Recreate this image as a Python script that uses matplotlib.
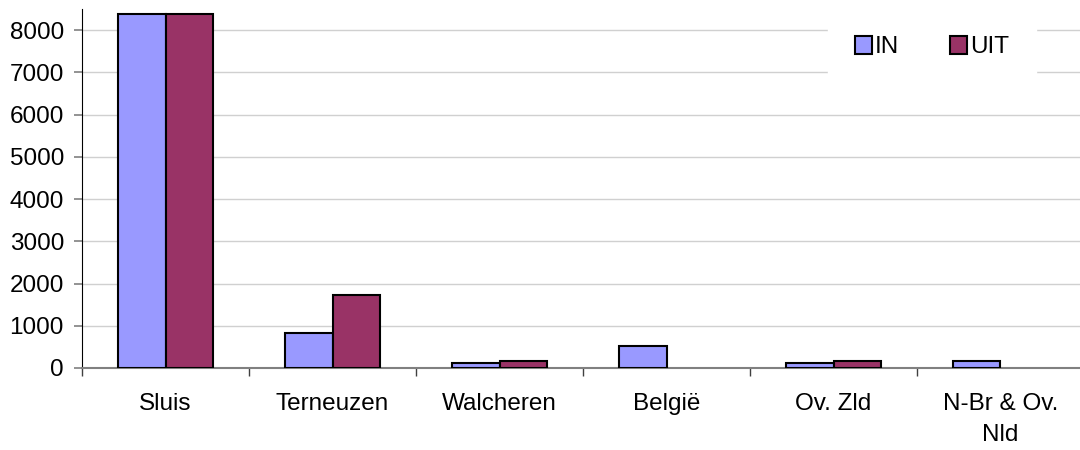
import numpy as np
import matplotlib.pyplot as plt
from matplotlib.patches import Patch

categories = ["Sluis", "Terneuzen", "Walcheren", "België", "Ov. Zld", "N-Br & Ov.\nNld"]
in_vals = [8380, 840, 120, 530, 120, 175]
uit_vals = [8380, 1740, 175, 0, 175, 0]

IN_COLOR = "#9999ff"
UIT_COLOR = "#993366"

plt.rcParams["font.family"] = ["Liberation Sans", "DejaVu Sans"]
FS = 17.5

fig = plt.figure(figsize=(10.8, 4.5), dpi=100)
# axis runs a little past the right edge, like the cropped original
ax = fig.add_axes([82 / 1080, (450 - 368) / 450, (1084 - 82) / 1080, (368 - 9) / 450])

x = np.arange(len(categories))
w = 1 / 3.5
b1 = ax.bar(x - w / 2, in_vals, w, color=IN_COLOR, edgecolor="black", linewidth=1.5, zorder=3)
b2 = ax.bar(x + w / 2, uit_vals, w, color=UIT_COLOR, edgecolor="black", linewidth=1.5, zorder=3)
# empty bars show nothing
for p in list(b1) + list(b2):
    if p.get_height() == 0:
        p.set_visible(False)

ax.set_xlim(-0.5, len(categories) - 0.5)
ax.set_ylim(0, 8500)
ax.set_yticks(range(0, 8001, 1000))
ax.grid(axis="y", color="#d0d0d0", linewidth=1, zorder=0)

ax.set_xticks(np.arange(len(categories) + 1) - 0.5)
ax.set_xticklabels([])
ax.set_xticks(x, minor=True)
ax.set_xticklabels(categories, minor=True, fontsize=FS, linespacing=1.55)
ax.tick_params(axis="x", which="major", length=6, width=1, color="#404040", direction="out")
ax.tick_params(axis="x", which="minor", length=0, pad=18)
ax.tick_params(axis="y", length=6, width=1.2, color="#808080", labelsize=FS, pad=7)

for s in ["top", "right"]:
    ax.spines[s].set_visible(False)
ax.spines["left"].set_color("black")
ax.spines["bottom"].set_color("#808080")
ax.spines["bottom"].set_linewidth(1.5)

handles = [Patch(facecolor=IN_COLOR, edgecolor="black", linewidth=1.5, label="IN"),
           Patch(facecolor=UIT_COLOR, edgecolor="black", linewidth=1.5, label="UIT")]
leg = fig.legend(handles=handles, loc="upper left", bbox_to_anchor=(828 / 1080, (450 - 9) / 450),
                 ncol=2, frameon=True, fontsize=FS, handlelength=0.7, handleheight=0.75,
                 handletextpad=0.12, columnspacing=2.1, borderpad=1.1, borderaxespad=0)
leg.get_frame().set_edgecolor("white")
leg.get_frame().set_facecolor("white")
leg.get_frame().set_alpha(1)
leg.get_frame().set_boxstyle("square", pad=0)

fig.savefig("out.png", dpi=100, facecolor="white")
